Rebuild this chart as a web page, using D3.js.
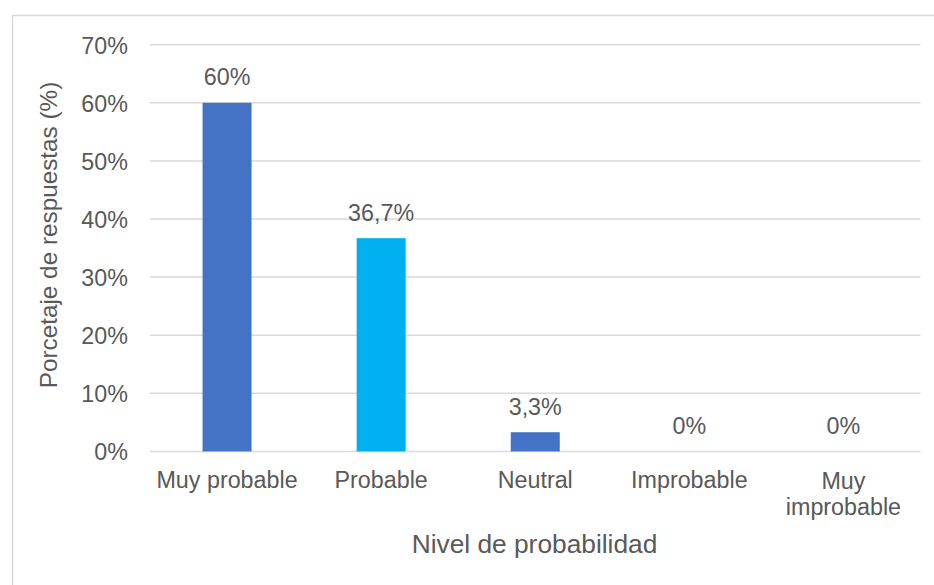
<!DOCTYPE html>
<html>
<head>
<meta charset="utf-8">
<script src="https://cdn.jsdelivr.net/npm/d3@7"></script>
<style>
  html, body { margin: 0; padding: 0; background: #fff; }
  svg { display: block; }
  text { font-family: "Liberation Sans", Arial, sans-serif; fill: #595959; }
</style>
</head>
<body>
<svg id="chart" width="934" height="585"></svg>
<script>
// Respuestas por nivel de probabilidad
const categories = ["Muy probable", "Probable", "Neutral", "Improbable", "Muy improbable"];
const values = [60, 36.7, 3.3, 0, 0];
const valueLabels = ["60%", "36,7%", "3,3%", "0%", "0%"];
const barColors = ["#4472C4", "#00B0F0", "#4472C4", "#4472C4", "#4472C4"];
const yTicks = [0, 10, 20, 30, 40, 50, 60, 70];

const svg = d3.select("#chart");
const W = 934, H = 585;

// marco del gráfico
svg.append("rect")
  .attr("x", 12.5).attr("y", 15.5)
  .attr("width", W).attr("height", H)
  .attr("fill", "#fff")
  .attr("stroke", "#D9D9D9").attr("stroke-width", 1.5);

const plot = { left: 150, right: 920.5, top: 44.7, bottom: 451.4 };

const x = d3.scaleBand()
  .domain(categories)
  .range([plot.left, plot.right])
  .paddingInner(0.682)
  .paddingOuter(0.341);

const y = d3.scaleLinear()
  .domain([0, 70])
  .range([plot.bottom, plot.top]);

// líneas de cuadrícula
svg.append("g")
  .selectAll("line")
  .data(yTicks)
  .join("line")
  .attr("x1", plot.left).attr("x2", plot.right)
  .attr("y1", d => y(d)).attr("y2", d => y(d))
  .attr("stroke", "#D9D9D9").attr("stroke-width", 1.5);

// etiquetas del eje Y
const yAxis = d3.axisLeft(y)
  .tickValues(yTicks)
  .tickFormat(d => d + "%")
  .tickSize(0)
  .tickPadding(22);

const gy = svg.append("g")
  .attr("transform", `translate(${plot.left},0)`)
  .call(yAxis);
gy.select(".domain").remove();
gy.selectAll("text")
  .attr("font-family", "Liberation Sans, Arial, sans-serif")
  .attr("font-size", 23.3)
  .attr("fill", "#595959")
  .attr("dy", "0.36em");

// barras
svg.append("g")
  .selectAll("rect")
  .data(values)
  .join("rect")
  .attr("x", (d, i) => x(categories[i]))
  .attr("width", x.bandwidth())
  .attr("y", d => y(d))
  .attr("height", d => y(0) - y(d))
  .attr("fill", (d, i) => barColors[i]);

// etiquetas de valor
svg.append("g")
  .selectAll("text")
  .data(values)
  .join("text")
  .attr("x", (d, i) => x(categories[i]) + x.bandwidth() / 2)
  .attr("y", d => y(d) - 17.5)
  .attr("text-anchor", "middle")
  .attr("font-size", 23.3)
  .text((d, i) => valueLabels[i]);

// etiquetas de categoría (con salto de línea)
const xLabelLines = categories.map(c => c === "Muy improbable" ? ["Muy", "improbable"] : [c]);
const gx = svg.append("g");
categories.forEach((c, i) => {
  const t = gx.append("text")
    .attr("x", x(c) + x.bandwidth() / 2)
    .attr("y", xLabelLines[i].length > 1 ? 489 : 488)
    .attr("text-anchor", "middle")
    .attr("font-size", 23.3);
  xLabelLines[i].forEach((line, k) => {
    t.append("tspan")
      .attr("x", x(c) + x.bandwidth() / 2)
      .attr("dy", k === 0 ? 0 : 25.5)
      .text(line);
  });
});

// títulos de los ejes
svg.append("text")
  .attr("x", 534.5).attr("y", 553)
  .attr("text-anchor", "middle")
  .attr("font-size", 26.3)
  .text("Nivel de probabilidad");

svg.append("text")
  .attr("transform", "translate(56.5,235) rotate(-90)")
  .attr("text-anchor", "middle")
  .attr("font-size", 24.3)
  .text("Porcetaje de respuestas (%)");
</script>
</body>
</html>
